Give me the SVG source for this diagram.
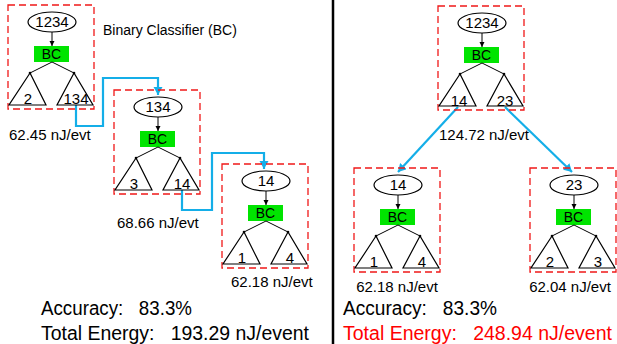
<svg xmlns="http://www.w3.org/2000/svg" width="617" height="344" viewBox="0 0 617 344">
<style>
text{font-family:"Liberation Sans",Arial,sans-serif;fill:#000}
.box{fill:none;stroke:#f01818;stroke-width:1.3;stroke-dasharray:7,4}
.ell{fill:#fff;stroke:#000;stroke-width:1.2}
.bc{fill:#00e400}
.tri{fill:none;stroke:#000;stroke-width:1.2}
.ln{fill:none;stroke:#000;stroke-width:1}
.dot{fill:#000}
.n{font-size:15px;text-anchor:middle}
.b{font-size:14px;text-anchor:middle}
.e{font-size:15px}
.big{font-size:19.5px}
.blue{fill:none;stroke:#14aee8;stroke-width:2.2}
</style>
<defs>
<marker id="ah" markerWidth="6" markerHeight="6" refX="5" refY="3" orient="auto" markerUnits="userSpaceOnUse"><path d="M0,0.5 L5,3 L0,5.5 Z" fill="#000"/></marker>
<marker id="bh" markerWidth="10" markerHeight="10" refX="8" refY="4.5" orient="auto" markerUnits="userSpaceOnUse"><path d="M0,0 L8,4.5 L0,9 Z" fill="#14aee8"/></marker>
<g id="mod">
<rect class="box" x="0" y="0" width="86" height="104"/>
<line class="ln" x1="44" y1="27" x2="44" y2="41" marker-end="url(#ah)"/>
<rect class="bc" x="26" y="41" width="35" height="16"/>
<polyline class="ln" points="22,68 44,57 66,68"/>
<circle class="dot" cx="22" cy="68" r="1.3"/>
<circle class="dot" cx="66" cy="68" r="1.3"/>
<polygon class="tri" points="22,68 1,100 38,100"/>
<polygon class="tri" points="66,68 49,100 85,100"/>
<ellipse class="ell" cx="44" cy="17" rx="24" ry="10"/>
<text class="b" x="43.5" y="54">BC</text>
</g>
</defs>

<g id="connectors">
<path class="blue" d="M76,105 V126 H103 V78 H158 V95" marker-end="url(#bh)"/>
<path class="blue" d="M182,190 V210 H212 V153 H264 V169" marker-end="url(#bh)"/>
<path class="blue" d="M458,107 L398,172" marker-end="url(#bh)"/>
<path class="blue" d="M505,107 L572,172" marker-end="url(#bh)"/>
</g>

<g id="node-L1" transform="translate(8,5)">
<use href="#mod"/>
<text class="n" x="44" y="22">1234</text>
<text class="n" x="20" y="99">2</text>
<text class="n" x="68" y="99">134</text>
</g>
<g id="node-L2" transform="translate(114,90)">
<use href="#mod"/>
<text class="n" x="44" y="22">134</text>
<text class="n" x="20" y="99">3</text>
<text class="n" x="68" y="99">14</text>
</g>
<g id="node-L3" transform="translate(222,164)">
<use href="#mod"/>
<text class="n" x="44" y="22">14</text>
<text class="n" x="20" y="99">1</text>
<text class="n" x="68" y="99">4</text>
</g>
<g id="node-R1" transform="translate(438,6)">
<use href="#mod"/>
<text class="n" x="44" y="22">1234</text>
<text class="n" x="21" y="100">14</text>
<text class="n" x="67" y="100">23</text>
</g>
<g id="node-R2" transform="translate(354,168)">
<use href="#mod"/>
<text class="n" x="44" y="22">14</text>
<text class="n" x="20" y="99">1</text>
<text class="n" x="68" y="99">4</text>
</g>
<g id="node-R3" transform="translate(530,168)">
<use href="#mod"/>
<text class="n" x="44" y="22">23</text>
<text class="n" x="20" y="99">2</text>
<text class="n" x="68" y="99">3</text>
</g>

<g id="labels">
<text x="103" y="35" style="font-size:14px">Binary Classifier (BC)</text>
<text class="e" x="9" y="140">62.45 nJ/evt</text>
<text class="e" x="117" y="228">68.66 nJ/evt</text>
<text class="e" x="231" y="287">62.18 nJ/evt</text>
<text class="e" x="484" y="140" text-anchor="middle">124.72 nJ/evt</text>
<text class="e" x="397" y="292" text-anchor="middle">62.18 nJ/evt</text>
<text class="e" x="570" y="292" text-anchor="middle">62.04 nJ/evt</text>
<text class="big" x="41" y="315" xml:space="preserve" textLength="151" lengthAdjust="spacingAndGlyphs">Accuracy:   83.3%</text>
<text class="big" x="41" y="340" xml:space="preserve" textLength="268" lengthAdjust="spacingAndGlyphs">Total Energy:   193.29 nJ/event</text>
<text class="big" x="343" y="315" xml:space="preserve" textLength="154" lengthAdjust="spacingAndGlyphs">Accuracy:   83.3%</text>
<text class="big" x="343" y="340" xml:space="preserve" textLength="269" lengthAdjust="spacingAndGlyphs" style="fill:#ff0000">Total Energy:   248.94 nJ/event</text>
</g>

<line id="divider" x1="333" y1="0" x2="333" y2="344" stroke="#000" stroke-width="2.5"/>
</svg>
